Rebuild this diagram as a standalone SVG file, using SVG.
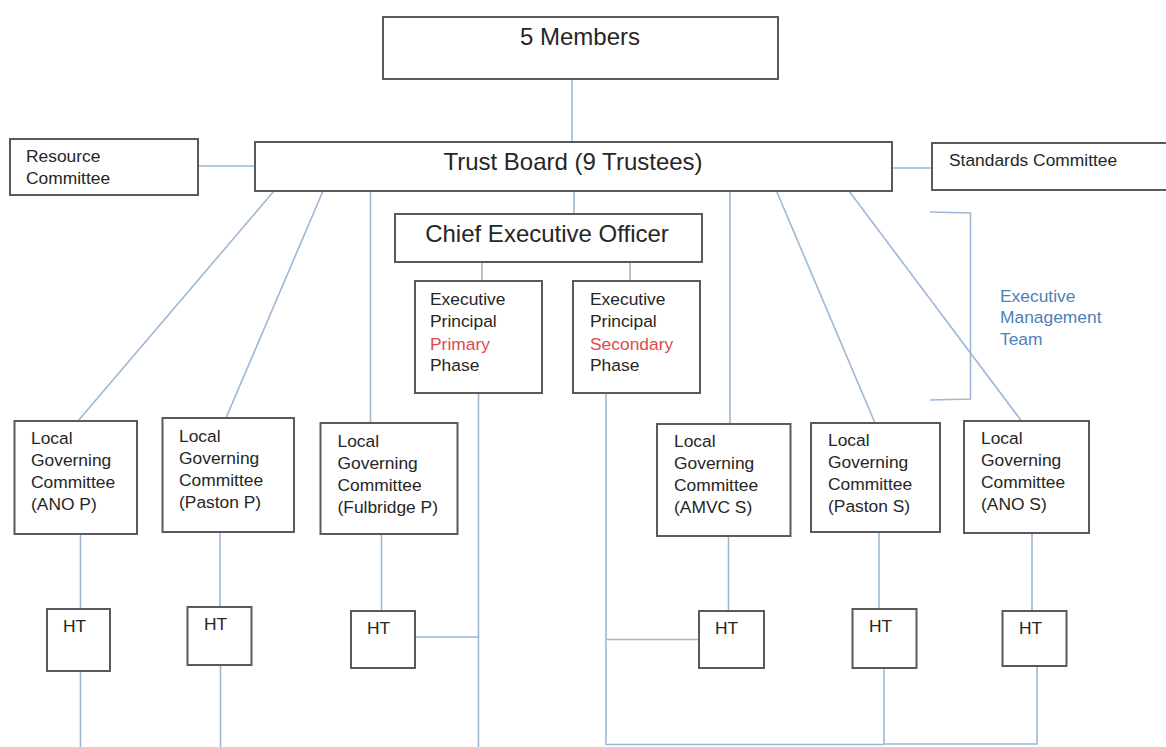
<svg xmlns="http://www.w3.org/2000/svg" width="1166" height="747" viewBox="0 0 1166 747">
  <style>
    .box { fill: #ffffff; stroke: #5a5a5a; stroke-width: 2; }
    .link { fill: none; stroke: #9db8d6; stroke-width: 1.6; }
    text { font-family: "Liberation Sans", Arial, sans-serif; fill: #262626; }
    .big { font-size: 24px; }
    .small { font-size: 17.4px; }
    .red { fill: #e04a4a; }
    .team { fill: #4f7fb8; font-size: 17.4px; }
  </style>

  <rect width="1166" height="747" fill="#ffffff"/>

  <!-- connectors -->
  <g id="connectors">
    <line class="link" x1="572" y1="79" x2="572" y2="142"/>
    <line class="link" x1="574" y1="191" x2="574" y2="214"/>
    <line class="link" x1="198" y1="166" x2="255" y2="166"/>
    <line class="link" x1="892" y1="168" x2="932" y2="168"/>
    <!-- trust board to local committees -->
    <line class="link" x1="274" y1="191" x2="78" y2="421"/>
    <line class="link" x1="323" y1="191" x2="226" y2="418"/>
    <line class="link" x1="370.5" y1="191" x2="370.5" y2="423"/>
    <line class="link" x1="730" y1="191" x2="730" y2="424"/>
    <line class="link" x1="776.5" y1="191" x2="875" y2="423"/>
    <line class="link" x1="849" y1="191" x2="1021.5" y2="421"/>
    <!-- CEO to executive principals -->
    <line class="link" x1="482" y1="262" x2="482" y2="281"/>
    <line class="link" x1="630" y1="262" x2="630" y2="281"/>
    <!-- committees to head teachers -->
    <line class="link" x1="80.5" y1="534" x2="80.5" y2="609"/>
    <line class="link" x1="220" y1="532" x2="220" y2="607"/>
    <line class="link" x1="381.5" y1="534" x2="381.5" y2="611"/>
    <line class="link" x1="728.5" y1="536" x2="728.5" y2="611"/>
    <line class="link" x1="879" y1="532" x2="879" y2="609"/>
    <line class="link" x1="1032" y1="533" x2="1032" y2="611"/>
    <!-- primary phase feeder lines -->
    <line class="link" x1="80.5" y1="671" x2="80.5" y2="747"/>
    <line class="link" x1="220.5" y1="665" x2="220.5" y2="747"/>
    <polyline class="link" points="415,637 478.5,637"/>
    <line class="link" x1="478.5" y1="393" x2="478.5" y2="747"/>
    <!-- secondary phase feeder lines -->
    <polyline class="link" points="606,393 606,744.5 884,744.5"/>
    <line class="link" x1="606" y1="639.5" x2="699" y2="639.5"/>
    <polyline class="link" points="884,668 884,744 1037,744 1037,666"/>
    <!-- executive management team bracket -->
    <polyline class="link" points="930,212 970.5,213 970.5,399 930,400"/>
  </g>

  <!-- top tier -->
  <g id="members">
    <rect class="box" x="383" y="17" width="395" height="62"/>
    <text class="big" x="580" y="45" text-anchor="middle">5 Members</text>
  </g>

  <g id="trust-board">
    <rect class="box" x="255" y="142" width="637" height="49"/>
    <text class="big" x="573" y="170" text-anchor="middle">Trust Board (9 Trustees)</text>
  </g>

  <g id="resource-committee">
    <rect class="box" x="10" y="139" width="188" height="56"/>
    <text class="small" x="26" y="162">Resource</text>
    <text class="small" x="26" y="184">Committee</text>
  </g>

  <g id="standards-committee">
    <rect class="box" x="932" y="143" width="250" height="47"/>
    <text class="small" x="949" y="166">Standards Committee</text>
  </g>

  <g id="ceo">
    <rect class="box" x="395" y="214" width="307" height="48"/>
    <text class="big" x="547" y="242" text-anchor="middle">Chief Executive Officer</text>
  </g>

  <g id="ep-primary">
    <rect class="box" x="415" y="281" width="127" height="112"/>
    <text class="small" x="430" y="305">Executive</text>
    <text class="small" x="430" y="327">Principal</text>
    <text class="small red" x="430" y="349.5">Primary</text>
    <text class="small" x="430" y="371">Phase</text>
  </g>

  <g id="ep-secondary">
    <rect class="box" x="573" y="281" width="127" height="112"/>
    <text class="small" x="590" y="305">Executive</text>
    <text class="small" x="590" y="327">Principal</text>
    <text class="small red" x="590" y="349.5">Secondary</text>
    <text class="small" x="590" y="371">Phase</text>
  </g>

  <g id="executive-management-team">
    <text class="team" x="1000" y="302">Executive</text>
    <text class="team" x="1000" y="323">Management</text>
    <text class="team" x="1000" y="345">Team</text>
  </g>

  <!-- local governing committees -->
  <g id="lgc-ano-p">
    <rect class="box" x="14.5" y="421" width="122.5" height="113"/>
    <text class="small" x="31" y="444">Local</text>
    <text class="small" x="31" y="466">Governing</text>
    <text class="small" x="31" y="488">Committee</text>
    <text class="small" x="31" y="510">(ANO P)</text>
  </g>

  <g id="lgc-paston-p">
    <rect class="box" x="162.5" y="418" width="131.5" height="114"/>
    <text class="small" x="179" y="441.5">Local</text>
    <text class="small" x="179" y="463.5">Governing</text>
    <text class="small" x="179" y="485.5">Committee</text>
    <text class="small" x="179" y="507.5">(Paston P)</text>
  </g>

  <g id="lgc-fulbridge-p">
    <rect class="box" x="320.5" y="423" width="137" height="111"/>
    <text class="small" x="337.5" y="446.5">Local</text>
    <text class="small" x="337.5" y="468.5">Governing</text>
    <text class="small" x="337.5" y="490.5">Committee</text>
    <text class="small" x="337.5" y="512.5">(Fulbridge P)</text>
  </g>

  <g id="lgc-amvc-s">
    <rect class="box" x="657" y="424" width="133.5" height="112"/>
    <text class="small" x="674" y="447">Local</text>
    <text class="small" x="674" y="469">Governing</text>
    <text class="small" x="674" y="491">Committee</text>
    <text class="small" x="674" y="513">(AMVC S)</text>
  </g>

  <g id="lgc-paston-s">
    <rect class="box" x="811" y="423" width="129" height="109"/>
    <text class="small" x="828" y="446">Local</text>
    <text class="small" x="828" y="468">Governing</text>
    <text class="small" x="828" y="490">Committee</text>
    <text class="small" x="828" y="512">(Paston S)</text>
  </g>

  <g id="lgc-ano-s">
    <rect class="box" x="964" y="421" width="125" height="112"/>
    <text class="small" x="981" y="443.5">Local</text>
    <text class="small" x="981" y="465.5">Governing</text>
    <text class="small" x="981" y="487.5">Committee</text>
    <text class="small" x="981" y="509.5">(ANO S)</text>
  </g>

  <!-- head teachers -->
  <g id="ht-ano-p">
    <rect class="box" x="47" y="609" width="63" height="62"/>
    <text class="small" x="63" y="632">HT</text>
  </g>
  <g id="ht-paston-p">
    <rect class="box" x="187.5" y="607" width="64" height="58"/>
    <text class="small" x="204" y="630">HT</text>
  </g>
  <g id="ht-fulbridge-p">
    <rect class="box" x="351" y="611" width="64" height="57"/>
    <text class="small" x="367" y="634">HT</text>
  </g>
  <g id="ht-amvc-s">
    <rect class="box" x="699" y="611" width="65" height="57"/>
    <text class="small" x="715" y="634">HT</text>
  </g>
  <g id="ht-paston-s">
    <rect class="box" x="852.5" y="609" width="64" height="59"/>
    <text class="small" x="869" y="632">HT</text>
  </g>
  <g id="ht-ano-s">
    <rect class="box" x="1002.5" y="611" width="64" height="55"/>
    <text class="small" x="1019" y="634">HT</text>
  </g>
</svg>
